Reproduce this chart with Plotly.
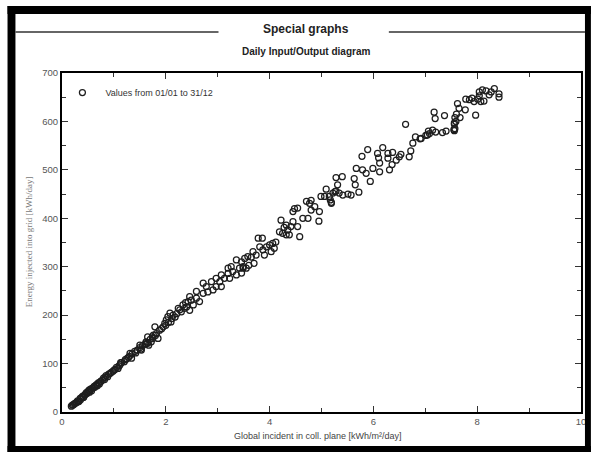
import plotly.graph_objects as go

# ---- data ----
gl_low = [0.18,0.2,0.22,0.24,0.25,0.27,0.28,0.3,0.31,0.33,0.35,0.36,0.38,0.4,0.41,0.42,0.44,0.45,0.47,0.48,
          0.5,0.52,0.53,0.55,0.57,0.58,0.6,0.62,0.63,0.65,0.67,0.68,0.7,0.72,0.74,0.75,0.78,0.8,0.82,0.83,
          0.85,0.88,0.9,0.93,0.95,0.98,1.0,1.02,1.05,1.08,1.1,1.12,1.13,1.15,1.2,1.22,1.25,1.28,1.3,1.31,
          1.34,1.35,1.4,1.42,1.45,1.5,1.5,1.52,1.53,1.55,1.6,1.62,1.62,1.65,1.65,1.7,1.74,1.75,1.8]
en_low = [12,14,15,17,18,19,20,23,21,22,28,26,30,33,30,31,35,37,40,38,
          42,45,41,47,44,49,50,53,51,55,57,54,60,58,62,64,66,70,67,72,
          75,73,78,80,82,84,86,88,92,90,95,98,102,102,104,108,110,113,115,121,
          111,120,125,122,128,133,138,130,128,137,140,145,141,142,155,150,155,152,158]

gl_mid1 = [1.67,1.72,1.76,1.79,1.82,1.85,1.88,1.92,1.95,1.98,2.0,2.01,2.04,2.05,2.08,2.1,2.12,2.14,2.18,2.21,
           2.24,2.27,2.3,2.33,2.36,2.38,2.4,2.43,2.46,2.46,2.49,2.53,2.59,2.59,2.65,2.72,2.72,2.78,2.81,2.88,
           2.91,2.97,2.97,3.04,3.07,3.07,3.13,3.2,3.2,3.23,3.26,3.29,3.36,3.36,3.42,3.46,3.52]
en_mid1 = [138,145,159,176,162,152,169,172,176,183,179,190,197,185,204,186,193,200,196,203,
           214,211,207,221,214,226,217,228,210,238,231,221,235,249,228,245,266,259,248,269,
           252,259,276,269,259,283,276,286,297,276,300,290,283,314,297,310,317]

gl_mid2 = [3.46,3.49,3.49,3.55,3.58,3.6,3.65,3.68,3.7,3.74,3.78,3.81,3.86,3.87,3.9,3.94,4.0,4.03,4.06,4.09,
           4.12,4.19,4.22,4.25,4.28,4.32,4.32,4.35,4.38,4.41,4.45,4.45,4.48,4.54,4.54,4.58,4.64,4.71,4.74,4.77,
           4.8,4.8,4.87,4.95,4.96,4.99,5.06,5.09,5.15,5.17,5.19,5.26]
en_mid2 = [287,297,300,297,321,303,320,331,307,324,359,341,359,335,324,341,345,331,348,338,
           351,372,396,369,381,386,366,376,366,383,393,414,420,421,383,362,400,435,400,431,
           417,437,424,394,414,445,445,460,445,438,431,455]

gl_high1 = [5.19,5.22,5.28,5.28,5.31,5.34,5.4,5.41,5.51,5.57,5.63,5.65,5.67,5.72,5.78,5.79,5.86,5.89,5.94,5.99,
            6.08,6.1,6.12,6.12,6.18,6.28,6.28,6.31,6.36,6.37,6.44,6.5,6.53,6.62,6.69,6.72,6.76,6.81,6.9,7.04,7.06]
en_high1 = [433,452,456,484,469,452,486,448,450,448,482,469,503,454,528,500,493,542,476,503,
            534,525,496,514,546,524,534,500,511,536,520,527,532,594,527,539,555,568,564,572,580]

gl_high2 = [6.92,7.01,7.08,7.14,7.17,7.19,7.2,7.33,7.37,7.4,7.55,7.56,7.56,7.56,7.57,7.57,7.59,7.6,7.62,7.65,
            7.67,7.77,7.78,7.85,7.9,7.94,7.97,8.01,8.04,8.04,8.07,8.1,8.13,8.17,8.23,8.27,8.33,8.42,8.42]
en_high2 = [565,571,575,582,619,606,578,577,612,580,583,581,594,597,585,608,600,615,637,627,
            608,624,646,645,648,641,613,646,653,661,641,665,642,663,655,661,668,650,657]

global_incident = gl_low + gl_mid1 + gl_mid2 + gl_high1 + gl_high2
energy_grid = en_low + en_mid1 + en_mid2 + en_high1 + en_high2

x_ticks = [0, 2, 4, 6, 8, 10]
y_ticks = [0, 100, 200, 300, 400, 500, 600, 700]

# ---- layout geometry (pixels) ----
W, H = 596, 452
L, R, T, B = 62, 586, 73, 412


def px(x):
    return (x - L) / (R - L)


def py(y):
    return (B - y) / (B - T)


fig = go.Figure()
fig.add_trace(go.Scatter(
    x=global_incident, y=energy_grid, mode="markers",
    name="Values from 01/01 to 31/12",
    marker=dict(symbol="circle-open", size=6, color="#1e1e1e", line=dict(width=1.25, color="#1e1e1e")),
))

axis_common = dict(
    showline=True, linecolor="black", linewidth=2, mirror="allticks",
    ticks="inside", ticklen=6, tickwidth=1, tickcolor="#333",
    showgrid=False, zeroline=False,
    tickfont=dict(family="Liberation Sans, Arial", size=9.5, color="#555"),
)

fig.update_xaxes(range=[0, 10], tickvals=x_ticks, ticktext=[str(v) for v in x_ticks],
                 minor=dict(ticks="inside", ticklen=4, dtick=1, tickcolor="#333"),
                 **axis_common)
fig.update_yaxes(range=[0, 700], tickvals=y_ticks, ticktext=[str(v) for v in y_ticks],
                 minor=dict(ticks="inside", ticklen=4, dtick=50, tickcolor="#333"),
                 **axis_common)

shapes = []
# black outer frame
for (x0, y0, x1, y1) in [(7, 6, 15, 452), (7, 6, 596, 14), (590, 6, 596, 452), (7, 446, 596, 452)]:
    shapes.append(dict(type="rect", xref="paper", yref="paper",
                       x0=px(x0), x1=px(x1), y0=py(y0), y1=py(y1),
                       fillcolor="black", line=dict(width=0), layer="above"))
# lines beside the section title
for (x0, x1) in [(15, 220), (392, 590)]:
    shapes.append(dict(type="line", xref="paper", yref="paper",
                       x0=px(x0), x1=px(x1), y0=py(32), y1=py(32),
                       line=dict(color="#333", width=1.5)))

annotations = [
    dict(text="<b>Special graphs</b>", x=px(308), y=py(29), xref="paper", yref="paper",
         showarrow=False, font=dict(family="Liberation Sans, Arial", size=12, color="#222"),
         xanchor="center", yanchor="middle"),
    dict(text="<b>Daily Input/Output diagram</b>", x=px(308), y=py(52), xref="paper", yref="paper",
         showarrow=False, font=dict(family="Liberation Sans, Arial", size=10, color="#222"),
         xanchor="center", yanchor="middle"),
    dict(text="Global incident in coll. plane [kWh/m²/day]", x=px(320), y=py(436), xref="paper", yref="paper",
         showarrow=False, font=dict(family="Liberation Sans, Arial", size=9, color="#444"),
         xanchor="center", yanchor="middle"),
    dict(text="Energy injected into grid [kWh/day]", x=px(29), y=py(242), xref="paper", yref="paper",
         showarrow=False, textangle=-90, font=dict(family="Liberation Serif, Times New Roman", size=9, color="#777"),
         xanchor="center", yanchor="middle"),
]

fig.update_layout(
    width=W, height=H,
    margin=dict(l=L, r=W - R, t=T, b=H - B, pad=0),
    paper_bgcolor="white", plot_bgcolor="white",
    showlegend=True,
    legend=dict(x=-0.005, y=0.985, xanchor="left", yanchor="top", bgcolor="rgba(0,0,0,0)",
                font=dict(family="Liberation Sans, Arial", size=9, color="#333"),
                itemwidth=36),
    shapes=shapes, annotations=annotations,
)

fig.write_html("out.html", config={"displayModeBar": False},
               post_script="document.body.style.margin='0';document.body.style.overflow='hidden';")
